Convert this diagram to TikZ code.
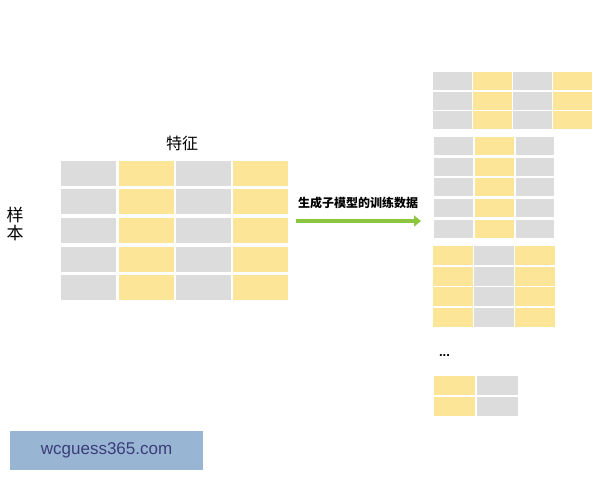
\documentclass[tikz,border=0pt]{standalone}
\usepackage{fontspec}
\newfontfamily\cjk{Noto Sans CJK SC}
\setsansfont{Liberation Sans}
\usetikzlibrary{arrows.meta}
\definecolor{cgray}{HTML}{DCDCDC}
\definecolor{cyel}{HTML}{FCE597}
\definecolor{agreen}{HTML}{8CC63F}
\definecolor{wmbg}{HTML}{98B6D4}
\definecolor{wmtxt}{HTML}{3C3C78}
\begin{document}
\begin{tikzpicture}[x=1pt,y=-1pt,
  cell/.style={draw=none, inner sep=0pt, anchor=north west},
  lbl/.style={inner sep=0pt, font=\cjk\fontsize{16}{20}\selectfont},
  bigarrow/.style={draw=agreen, line width=4.5pt, -{Triangle[length=7pt,width=11pt]}}]
\useasboundingbox (0,0) rectangle (600,480);

% main grid
\foreach \c/\col in {0/cgray,1/cyel,2/cgray,3/cyel}
  \foreach \r in {0,...,4}
    \node[cell, fill=\col, minimum width=55pt, minimum height=25pt] (m-\r-\c) at ({61+\c*57.3},{160.5+\r*28.6}) {};

\node[lbl] (feat) at (182,143) {特征};
\node[lbl, align=center, font=\cjk\fontsize{17}{18.5}\selectfont] (samp) at (15,224) {样\\本};

% arrow
\coordinate (a1) at (296,221);
\coordinate (a2) at (421,221);
\draw[bigarrow] (a1) -- (a2);
\node[inner sep=0pt, font=\cjk\bfseries\fontsize{12}{14}\selectfont] (alab) at (358,203) {生成子模型的训练数据};

% grid 1
\foreach \c/\col in {0/cgray,1/cyel,2/cgray,3/cyel}
  \foreach \r in {0,...,2}
    \node[cell, fill=\col, minimum width=39pt, minimum height=18pt] (g1-\r-\c) at ({432.7+\c*40.1},{71.7+\r*19.7}) {};
% grid 2
\foreach \c/\col in {0/cgray,1/cyel,2/cgray}
  \foreach \r in {0,...,4}
    \node[cell, fill=\col, minimum width=38.5pt, minimum height=18pt] (g2-\r-\c) at ({434+\c*40.8},{136.7+\r*20.65}) {};
% grid 3
\foreach \c/\col in {0/cyel,1/cgray,2/cyel}
  \foreach \r in {0,...,3}
    \node[cell, fill=\col, minimum width=39.5pt, minimum height=19pt] (g3-\r-\c) at ({433+\c*41},{246+\r*20.5}) {};
% dots
\node[inner sep=0pt, font=\sffamily\bfseries\fontsize{13}{14}\selectfont] (dots) at (444.5,356) {...};
% grid 4
\foreach \c/\col in {0/cyel,1/cgray}
  \foreach \r in {0,...,1}
    \node[cell, fill=\col, minimum width=41pt, minimum height=19.5pt] (g4-\r-\c) at ({433.3+\c*43.3},{375.7+\r*21}) {};

% watermark
\node[cell, fill=wmbg, minimum width=192.7pt, minimum height=39pt] (wm) at (10,431) {};
\node[inner sep=0pt, text=wmtxt, font=\sffamily\fontsize{17}{20}\selectfont] (wmt) at (wm.center) {wcguess365.com};
\end{tikzpicture}
\end{document}
